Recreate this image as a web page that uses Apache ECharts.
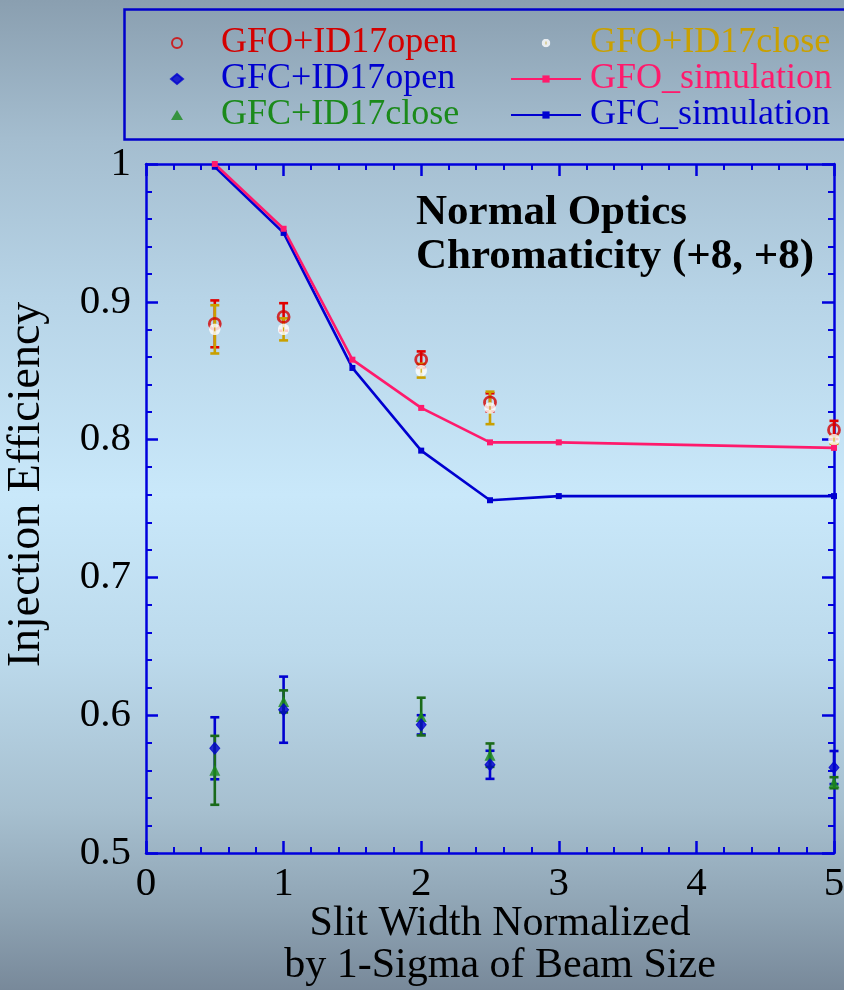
<!DOCTYPE html>
<html>
<head>
<meta charset="utf-8">
<title>Injection Efficiency vs Slit Width</title>
<script src="https://cdn.jsdelivr.net/npm/echarts@6/dist/echarts.min.js"></script>
<style>
  html, body { margin: 0; padding: 0; }
  #chart { width: 844px; height: 990px; }
</style>
</head>
<body>
<div id="chart"></div>
<script>
// Tick values of both axes
const xTicks = [0, 1, 2, 3, 4, 5];
const yTicks = [0.5, 0.6, 0.7, 0.8, 0.9, 1];

// Measured slit widths (in units of 1-sigma beam size)
const xMeas = [0.5, 1, 2, 2.5, 5];

// GFO, ID17 open / closed: efficiency and half error bar
const gfoOpen = [0.884, 0.889, 0.858, 0.827, 0.807];
const gfoOpenErr = [0.017, 0.010, 0.006, 0.0066, 0.0066];
const gfoClose = [0.880, 0.880, 0.850, 0.823, 0.800];
const gfoCloseErr = [0.0175, 0.008, 0.005, 0.0118, 0.003];

// GFC, ID17 open / closed
const gfcOpen = [0.576, 0.604, 0.593, 0.564, 0.562];
const gfcOpenErr = [0.0225, 0.024, 0.007, 0.0102, 0.012];
const gfcClose = [0.560, 0.610, 0.599, 0.571, 0.551];
const gfcCloseErr = [0.025, 0.008, 0.0137, 0.0085, 0.004];

// Simulated efficiencies
const xSim = [0.5, 1, 1.5, 2, 2.5, 3, 5];
const gfoSim = [1.000, 0.953, 0.858, 0.823, 0.798, 0.798, 0.794];
const gfcSim = [0.998, 0.950, 0.852, 0.792, 0.756, 0.759, 0.759];

const FONT = '"Liberation Serif", "Times New Roman", serif';
const AXIS_BLUE = '#0000dd';

const C_RED = '#d40000';
const C_GOLD = '#c9a000';
const C_BLUE = '#0000d0';
const C_GREEN = '#1b8a1b';
const C_GREEN_BAR = '#1a6a1a';
const C_PINK = '#ff1a6c';

function pts(xs, ys) { return xs.map((x, i) => [x, ys[i]]); }
function bars(xs, ys, es) { return xs.map((x, i) => [x, ys[i] - es[i], ys[i] + es[i]]); }

function errorBar(color) {
  return function (params, api) {
    const x = api.value(0);
    const lo = api.coord([x, api.value(1)]);
    const hi = api.coord([x, api.value(2)]);
    const hw = 4.5;
    const style = { stroke: color, lineWidth: 2.6, fill: null };
    return {
      type: 'group',
      children: [
        { type: 'line', shape: { x1: hi[0], y1: hi[1], x2: lo[0], y2: lo[1] }, style },
        { type: 'line', shape: { x1: hi[0] - hw, y1: hi[1], x2: hi[0] + hw, y2: hi[1] }, style },
        { type: 'line', shape: { x1: lo[0] - hw, y1: lo[1], x2: lo[0] + hw, y2: lo[1] }, style }
      ]
    };
  };
}

// White disc with a small gold centre mark
const closedMark = 'image://data:image/svg+xml;utf8,' + encodeURIComponent(
  '<svg xmlns="http://www.w3.org/2000/svg" width="24" height="24">' +
  '<circle cx="12" cy="12" r="11.5" fill="#ffffff"/>' +
  '<rect x="11" y="8" width="2" height="8" fill="' + C_GOLD + '"/></svg>'
);

const chart = echarts.init(document.getElementById('chart'), null, { renderer: 'canvas' });

const axisCommon = {
  type: 'value',
  axisLine: { show: true, onZero: false, lineStyle: { color: AXIS_BLUE, width: 2.5 } },
  axisTick: { show: true, inside: true, length: 12, lineStyle: { color: AXIS_BLUE, width: 2.5 } },
  minorTick: { show: true, splitNumber: 5, length: 6, lineStyle: { color: AXIS_BLUE, width: 2 } },
  splitLine: { show: false },
  minorSplitLine: { show: false }
};

const xMin = xTicks[0], xMax = xTicks[xTicks.length - 1], xStep = xTicks[1] - xTicks[0];
const yMin = yTicks[0], yMax = yTicks[yTicks.length - 1];
const yStep = Math.round((yTicks[1] - yTicks[0]) * 1000) / 1000;

const legendCommon = {
  orient: 'vertical',
  top: 25,
  padding: 0,
  itemGap: 0,
  selectedMode: false,
  symbolKeepAspect: true
};

const option = {
  animation: false,
  backgroundColor: {
    type: 'linear', x: 0, y: 0, x2: 0, y2: 1,
    colorStops: [
      { offset: 0.00, color: '#8a9fb0' },
      { offset: 0.14, color: '#a4bdcf' },
      { offset: 0.30, color: '#b7d4e7' },
      { offset: 0.50, color: '#c9e8fa' },
      { offset: 0.66, color: '#bcdaec' },
      { offset: 0.82, color: '#a6bfcf' },
      { offset: 0.92, color: '#8ea3b3' },
      { offset: 1.00, color: '#78899a' }
    ]
  },
  textStyle: { fontFamily: FONT },
  title: {
    text: 'Normal Optics\nChromaticity (+8, +8)',
    left: 416,
    top: 191,
    padding: 0,
    textStyle: { fontFamily: FONT, fontSize: 43, fontWeight: 'bold', color: '#000', lineHeight: 44 }
  },
  // Frame around the two legend columns
  graphic: [{
    type: 'rect',
    left: 122, top: 7,
    shape: { width: 740, height: 130 },
    style: { fill: 'none', stroke: '#0000cc', lineWidth: 2.5 },
    silent: true
  }],
  legend: [
    Object.assign({}, legendCommon, {
      left: 170,
      itemWidth: 12,
      itemHeight: 10,
      textStyle: { fontFamily: FONT, fontSize: 36, padding: [0, 0, 0, 33] },
      data: [
        { name: 'GFO+ID17open', textStyle: { color: C_RED } },
        { name: 'GFC+ID17open', textStyle: { color: C_BLUE } },
        { name: 'GFC+ID17close', textStyle: { color: C_GREEN } }
      ]
    }),
    Object.assign({}, legendCommon, {
      left: 510,
      itemWidth: 70,
      itemHeight: 9,
      textStyle: { fontFamily: FONT, fontSize: 36, padding: [0, 0, 0, 4] },
      data: [
        { name: 'GFO+ID17close', textStyle: { color: C_GOLD } },
        { name: 'GFO_simulation', textStyle: { color: C_PINK } },
        { name: 'GFC_simulation', textStyle: { color: C_BLUE } }
      ]
    })
  ],
  grid: { left: 146, right: 10, top: 164, bottom: 137, outerBoundsMode: 'none', containLabel: false },
  xAxis: [
    Object.assign({}, axisCommon, {
      position: 'bottom', min: xMin, max: xMax, interval: xStep,
      name: 'Slit Width Normalized\nby 1-Sigma of Beam Size',
      nameLocation: 'middle', nameGap: 50, nameMoveOverlap: false,
      nameTextStyle: { fontFamily: FONT, fontSize: 42, color: '#000', lineHeight: 42, padding: [0, 0, 0, 20] },
      axisLabel: { show: true, margin: 11, fontFamily: FONT, fontSize: 41, color: '#000',
        showMinLabel: true, showMaxLabel: true }
    }),
    Object.assign({}, axisCommon, {
      position: 'top', min: xMin, max: xMax, interval: xStep,
      axisLabel: { show: false }
    })
  ],
  yAxis: [
    Object.assign({}, axisCommon, {
      position: 'left', min: yMin, max: yMax, interval: yStep,
      name: 'Injection Efficiency',
      nameLocation: 'middle', nameGap: 96, nameMoveOverlap: false,
      nameTextStyle: { fontFamily: FONT, fontSize: 46, color: '#000', padding: [0, 0, 0, 48] },
      axisLabel: { show: true, margin: 15, fontFamily: FONT, fontSize: 41, color: '#000',
        showMinLabel: true, showMaxLabel: true,
        formatter: v => String(Math.round(v * 10) / 10) }
    }),
    Object.assign({}, axisCommon, {
      position: 'right', min: yMin, max: yMax, interval: yStep,
      axisLabel: { show: false }
    })
  ],
  series: [
    {
      name: 'GFC_simulation', type: 'line', data: pts(xSim, gfcSim),
      symbol: 'rect', symbolSize: 6, clip: false,
      lineStyle: { color: C_BLUE, width: 2.6 }, itemStyle: { color: C_BLUE }
    },
    {
      name: 'GFO_simulation', type: 'line', data: pts(xSim, gfoSim),
      symbol: 'rect', symbolSize: 6, clip: false,
      lineStyle: { color: C_PINK, width: 2.6 }, itemStyle: { color: C_PINK }
    },
    {
      name: 'GFO+ID17open bars', type: 'custom', data: bars(xMeas, gfoOpen, gfoOpenErr),
      renderItem: errorBar('#e00000'), encode: { x: 0, y: [1, 2] }, clip: false
    },
    {
      name: 'GFO+ID17open', type: 'scatter', data: pts(xMeas, gfoOpen),
      symbol: 'circle', symbolSize: 11, clip: false, symbolKeepAspect: true,
      itemStyle: { color: 'rgba(255,255,255,0)', borderColor: C_RED, borderWidth: 2.8 }
    },
    {
      name: 'GFO+ID17close bars', type: 'custom', data: bars(xMeas, gfoClose, gfoCloseErr),
      renderItem: errorBar(C_GOLD), encode: { x: 0, y: [1, 2] }, clip: false
    },
    {
      name: 'GFO+ID17close', type: 'scatter', data: pts(xMeas, gfoClose),
      symbol: closedMark, symbolSize: 12, clip: false, symbolKeepAspect: true,
      itemStyle: { color: '#ffffff' }
    },
    {
      name: 'GFC+ID17open bars', type: 'custom', data: bars(xMeas, gfcOpen, gfcOpenErr),
      renderItem: errorBar(C_BLUE), encode: { x: 0, y: [1, 2] }, clip: false
    },
    {
      name: 'GFC+ID17close bars', type: 'custom', data: bars(xMeas, gfcClose, gfcCloseErr),
      renderItem: errorBar(C_GREEN_BAR), encode: { x: 0, y: [1, 2] }, clip: false
    },
    {
      name: 'GFC+ID17close', type: 'scatter', data: pts(xMeas, gfcClose),
      symbol: 'triangle', symbolSize: 11, clip: false, symbolKeepAspect: true,
      itemStyle: { color: C_GREEN }
    },
    {
      name: 'GFC+ID17open', type: 'scatter', data: pts(xMeas, gfcOpen),
      symbol: 'diamond', symbolSize: [10, 12], clip: false, symbolKeepAspect: true,
      itemStyle: { color: C_BLUE, borderColor: C_BLUE, borderWidth: 1 }
    }
  ]
};

chart.setOption(option);
</script>
</body>
</html>
